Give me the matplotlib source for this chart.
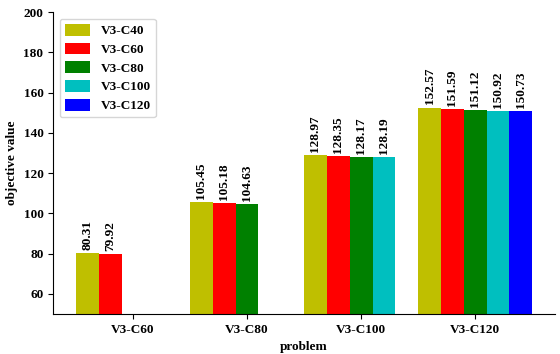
import numpy as np
import matplotlib.pyplot as plt

plt.rcParams['font.family'] = ['Liberation Serif', 'DejaVu Serif']
plt.rcParams['font.weight'] = 'bold'

problems = ['V3-C60', 'V3-C80', 'V3-C100', 'V3-C120']
series = ['V3-C40', 'V3-C60', 'V3-C80', 'V3-C100', 'V3-C120']
colors = ['#bfbf00', 'red', 'green', '#00bfbf', 'blue']
values = [
    [80.31, 105.45, 128.97, 152.57],
    [79.92, 105.18, 128.35, 151.59],
    [None, 104.63, 128.17, 151.12],
    [None, None, 128.19, 150.92],
    [None, None, None, 150.73],
]

fig = plt.figure(figsize=(5.6, 3.54), dpi=100)
ax = fig.add_axes([0.095, 0.113, 0.896, 0.853])

x = np.arange(len(problems))
w = 0.2
for i, name in enumerate(series):
    xs = [x[j] - 0.4 + i * w for j in range(len(problems)) if values[i][j] is not None]
    ys = [v for v in values[i] if v is not None]
    ax.bar(xs, ys, width=w, color=colors[i], label=name)
    for xx, yy in zip(xs, ys):
        ax.text(xx, yy + 1.5, '%.2f' % yy, rotation=90, ha='center', va='bottom',
                fontsize=9.5, fontweight='bold')

ax.set_xticks(x)
ax.set_xticklabels(problems, fontsize=9.5, fontweight='bold')
ax.set_xlim(-0.7, 3.7)
ax.set_ylim(50, 200)
ax.set_yticks(range(60, 201, 20))
for t in ax.get_yticklabels():
    t.set_fontsize(9.5)
    t.set_fontweight('bold')
ax.set_xlabel('problem', fontsize=9.5, fontweight='bold')
ax.set_ylabel('objective value', fontsize=9.5, fontweight='bold')
ax.spines['top'].set_visible(False)
ax.spines['right'].set_visible(False)
ax.legend(loc='upper left', prop={'size': 9.5, 'weight': 'bold'}, handlelength=1.9,
          handleheight=1.0, labelspacing=0.4, bbox_to_anchor=(0.0, 1.0))

plt.savefig('out.png', dpi=100)
